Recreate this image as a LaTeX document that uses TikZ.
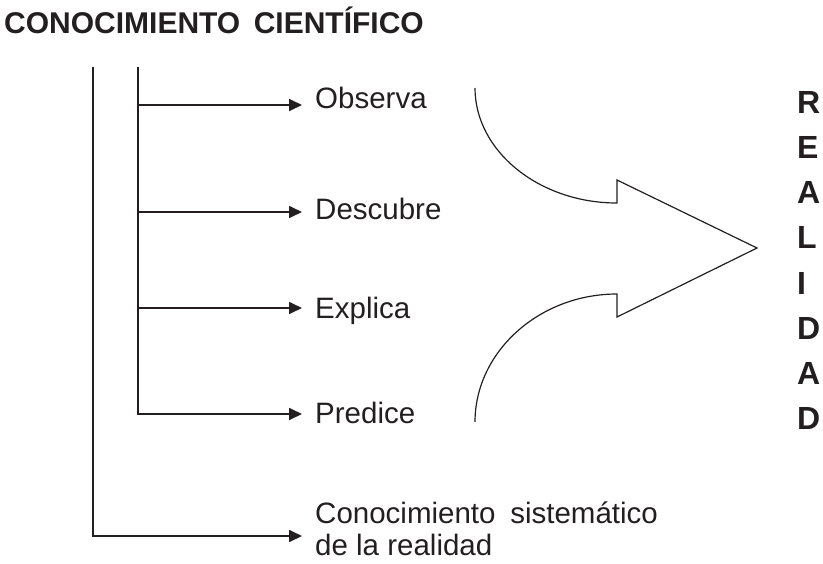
\documentclass[tikz,border=0pt]{standalone}
\usepackage{fontspec}
\setmainfont{Liberation Sans}
\usetikzlibrary{arrows.meta}
\definecolor{ink}{RGB}{35,31,32}
\begin{document}
\begin{tikzpicture}[x=1pt,y=-1pt,
  conn/.style={line width=1.8pt,draw=ink},
  arr/.style={conn,-{Triangle[length=13pt,width=12pt]}},
  lbl/.style={anchor=base west,inner sep=0pt,text=ink,font=\fontsize{29.5}{35}\selectfont},
  ttl/.style={anchor=base west,inner sep=0pt,text=ink,font=\fontsize{30}{36}\selectfont\bfseries},
  letr/.style={anchor=base west,inner sep=0pt,text=ink,font=\fontsize{32}{38}\selectfont\bfseries},
  bigarrow/.style={line width=1.2pt,draw=ink,line join=miter}]
\useasboundingbox (0,0) rectangle (823,563);
% title
\node[ttl] (title) at (4,33) {CONOCIMIENTO\hspace{0.45em}CIENTÍFICO};
% labels
\node[lbl] (obs) at (315,108) {Observa};
\node[lbl] (desc) at (315,219) {Descubre};
\node[lbl] (expl) at (315,318) {Explica};
\node[lbl] (pred) at (315,423) {Predice};
\node[lbl] (con1) at (315,523) {Conocimiento\hspace{0.5em}sistemático};
\node[lbl,text depth=0pt] (con2) at (315,555) {de la realidad};
% tree coordinates
\coordinate (otop) at (93,67);
\coordinate (obot) at (93,536);
\coordinate (itop) at (138,67);
\coordinate (i1) at (138,105);
\coordinate (i2) at (138,212);
\coordinate (i3) at (138,308);
\coordinate (i4) at (138,414);
\coordinate (t1) at (302,105);
\coordinate (t2) at (302,212);
\coordinate (t3) at (302,308);
\coordinate (t4) at (302,414);
\coordinate (t5) at (302,536);
\draw[arr] (otop) -- (obot) -- (t5);
\draw[arr] (itop) -- (i4) -- (t4);
\draw[arr] (i1) -- (t1);
\draw[arr] (i2) -- (t2);
\draw[arr] (i3) -- (t3);
% big curved arrow
\draw[bigarrow] (475,88) .. controls (475,151) and (539,203) .. (617,203)
  -- (617,180) -- (757,248) -- (617,317) -- (617,294)
  .. controls (539,294) and (475,352) .. (475,422);
% REALIDAD
\node[letr] (r1) at (797,113) {R};
\node[letr] (r2) at (797,158) {E};
\node[letr] (r3) at (797,203) {A};
\node[letr] (r4) at (797,248) {L};
\node[letr] (r5) at (797,294) {I};
\node[letr] (r6) at (797,339) {D};
\node[letr] (r7) at (797,384) {A};
\node[letr] (r8) at (797,429) {D};
\end{tikzpicture}
\end{document}
